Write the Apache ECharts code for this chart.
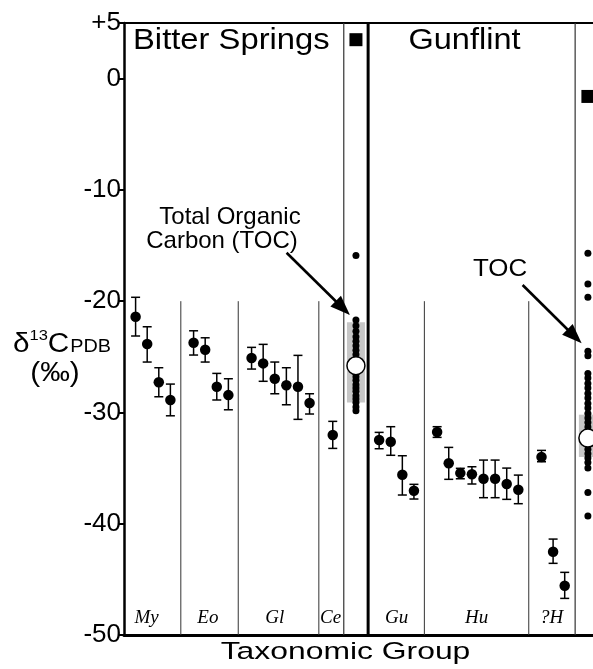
<!DOCTYPE html>
<html><head><meta charset="utf-8">
<script src="https://cdn.jsdelivr.net/npm/echarts@6/dist/echarts.min.js"></script>
<style>html,body{margin:0;padding:0;background:#fff}#c{width:593px;height:669px}</style>
</head><body><div id="c"></div>
<script>
// ---------------- DATA ----------------
const categories = ['My','Eo','Gl','Ce','Gu','Hu','?H'];
const myMean=[-21.40,-23.85,-27.29,-28.88], myHi=[-19.65,-22.30,-25.98,-27.45], myLo=[-23.13,-25.47,-28.59,-30.30];
const eoMean=[-23.74,-24.36,-27.69,-28.44], eoHi=[-22.66,-23.29,-26.49,-26.97], eoLo=[-24.84,-25.47,-28.88,-29.76];
const glMean=[-25.11,-25.59,-26.97,-27.56,-27.69,-29.15], glHi=[-24.15,-23.88,-25.47,-25.98,-24.87,-28.32], glLo=[-26.10,-27.20,-28.32,-29.31,-30.62,-30.14];
const ceMean=[-32.03], ceHi=[-30.80], ceLo=[-33.23];
const guMean=[-32.48,-32.63,-35.60,-37.04], guHi=[-31.79,-31.28,-33.89,-36.46], guLo=[-33.26,-33.85,-37.42,-37.78];
const huMean=[-31.76,-34.57,-35.45,-35.56,-35.96,-35.96,-36.43,-36.95], huHi=[-31.28,-33.14,-35.02,-34.88,-34.28,-34.28,-35.00,-35.63], huLo=[-32.24,-36.01,-35.96,-36.43,-37.66,-37.66,-37.81,-38.20];
const qhMean=[-34.01,-42.52,-45.57], qhHi=[-33.41,-41.38,-44.37], qhLo=[-34.43,-43.56,-46.71];

const bsTocDots=[-15.9,-21.7,-22.2,-22.7,-23.2,-23.6,-24.0,-24.4,-24.8,-26.8,-27.1,-27.5,-27.8,-28.1,-28.5,-28.8,-29.1,-29.5,-29.85];
const bsTocMean=[-25.8];
const bsTocRange=[-21.9,-29.1];
const bsSquare=[3.5];
const gfTocDots=[-15.7,-18.45,-19.65,-24.5,-24.9,-26.5,-26.9,-27.4,-27.8,-28.3,-28.7,-29.2,-29.6,-30.1,-30.5,-30.9,-31.3,-31.7,-32.9,-33.3,-33.7,-34.1,-34.5,-35.0,-37.2,-39.3];
const gfTocMean=[-32.3];
const gfTocRange=[-30.2,-34.0];
const gfSquare=[-1.6];

const yTickValues=[-50,-40,-30,-20,-10,0,5];
const yTickLabels=['-50','-40','-30','-20','-10','0','+5'];

// ---------------- LAYOUT ----------------
const SLOT_MAX=40.44;
const groupStart=[1,6,11,18,22,27,36];
const groupLabelSlot=[1.95,7.23,13.0,17.82,23.5,30.4,36.87];
const groupLabelY=-48.45;
const bsTocSlot=20, gfTocSlot=40;
const partialSeps=[4.9,9.85,16.8,25.9,34.9];
const fullThinSeps=[18.95,38.9];
const thickSeps=[21.05];
const arrows=[[14.02,-15.65,19.48,-21.25],[34.37,-18.55,39.46,-23.79]];

const groupsData=[[myMean,myHi,myLo],[eoMean,eoHi,eoLo],[glMean,glHi,glLo],[ceMean,ceHi,ceLo],[guMean,guHi,guLo],[huMean,huHi,huLo],[qhMean,qhHi,qhLo]];
const pts=[], errs=[];
groupsData.forEach((g,gi)=>{
  g[0].forEach((m,i)=>{
    const s=groupStart[gi]+i;
    pts.push([s,m]);
    errs.push([s,g[2][i],g[1][i]]);
  });
});
const tocDots=bsTocDots.map(v=>[bsTocSlot,v]).concat(gfTocDots.map(v=>[gfTocSlot,v]));
const tocBars=[[bsTocSlot,bsTocRange[1],bsTocRange[0]],[gfTocSlot,gfTocRange[1],gfTocRange[0]]];
const tocMeans=[[bsTocSlot,bsTocMean[0]],[gfTocSlot,gfTocMean[0]]];
const squares=[[bsTocSlot,bsSquare[0]],[gfTocSlot,gfSquare[0]]];

const SANS="'Liberation Sans', Arial, Helvetica, sans-serif";
const chart=echarts.init(document.getElementById('c'),null,{renderer:'canvas'});

function sepSeries(data,top,width,color){
  return {type:'custom',silent:true,z:1,data:data.map(s=>[s]),
    renderItem:(p,api)=>{
      const a=api.coord([api.value(0),top]), b=api.coord([api.value(0),-50]);
      return {type:'line',shape:{x1:a[0],y1:a[1],x2:b[0],y2:b[1]},style:{stroke:color,lineWidth:width}};
    }};
}

const option={
  animation:false,
  backgroundColor:'#fff',
  grid:{left:124,right:0,top:23,bottom:34},
  xAxis:[
    {type:'value',min:0,max:SLOT_MAX,position:'bottom',axisLine:{show:true,onZero:false,lineStyle:{color:'#000',width:3}},axisTick:{show:false},axisLabel:{show:false},splitLine:{show:false}},
    {type:'value',min:0,max:SLOT_MAX,position:'top',axisLine:{show:true,onZero:false,lineStyle:{color:'#000',width:2}},axisTick:{show:false},axisLabel:{show:false},splitLine:{show:false}}
  ],
  yAxis:{type:'value',min:-50,max:5,interval:10,
    axisLine:{show:true,onZero:false,lineStyle:{color:'#000',width:2.5}},
    axisTick:{show:true,length:6,lineStyle:{color:'#000',width:2}},
    axisLabel:{margin:3,color:'#000',fontSize:26,fontFamily:SANS,
      formatter:v=>{const i=yTickValues.indexOf(v);return i>=0?yTickLabels[i]:'';}},
    splitLine:{show:false}},
  series:[
    sepSeries(partialSeps,-20,1,'#333'),
    sepSeries(fullThinSeps,5,1.2,'#333'),
    sepSeries(thickSeps,5,3,'#000'),
    {type:'custom',z:2,data:tocBars,renderItem:(p,api)=>{
      const a=api.coord([api.value(0),api.value(2)]), b=api.coord([api.value(0),api.value(1)]);
      return {type:'rect',shape:{x:a[0]-9,y:a[1],width:18,height:b[1]-a[1]},style:{fill:'#c6c6c6'}};
    }},
    {type:'custom',z:3,data:errs,renderItem:(p,api)=>{
      const lo=api.coord([api.value(0),api.value(1)]), hi=api.coord([api.value(0),api.value(2)]);
      const st={stroke:'#000',lineWidth:1.5}, cw=4.5;
      return {type:'group',children:[
        {type:'line',shape:{x1:hi[0],y1:hi[1],x2:lo[0],y2:lo[1]},style:st},
        {type:'line',shape:{x1:hi[0]-cw,y1:hi[1],x2:hi[0]+cw,y2:hi[1]},style:st},
        {type:'line',shape:{x1:lo[0]-cw,y1:lo[1],x2:lo[0]+cw,y2:lo[1]},style:st}
      ]};
    }},
    {type:'scatter',z:4,data:tocDots,symbol:'circle',symbolSize:7,itemStyle:{color:'#000',opacity:1}},
    {type:'scatter',z:4,data:pts,symbol:'circle',symbolSize:10.5,itemStyle:{color:'#000',opacity:1}},
    {type:'scatter',z:5,clip:false,data:tocMeans,symbol:'circle',symbolSize:18,itemStyle:{color:'#fff',borderColor:'#000',borderWidth:1.5,opacity:1}},
    {type:'scatter',z:5,clip:false,data:squares,symbol:'rect',symbolSize:13,itemStyle:{color:'#000',opacity:1}},
    {type:'custom',z:6,data:arrows,renderItem:(p,api)=>{
      const a=api.coord([api.value(0),api.value(1)]), b=api.coord([api.value(2),api.value(3)]);
      const dx=b[0]-a[0], dy=b[1]-a[1], L=Math.hypot(dx,dy), ux=dx/L, uy=dy/L;
      const hl=20, hw=7.5;
      const bx=b[0]-ux*hl, by=b[1]-uy*hl;
      return {type:'group',children:[
        {type:'line',shape:{x1:a[0],y1:a[1],x2:bx+ux*2,y2:by+uy*2},style:{stroke:'#000',lineWidth:2.6}},
        {type:'polygon',shape:{points:[[b[0],b[1]],[bx-uy*hw,by+ux*hw],[bx+uy*hw,by-ux*hw]]},style:{fill:'#000'}}
      ]};
    }},
    {type:'custom',z:6,data:categories.map((c,i)=>[groupLabelSlot[i],groupLabelY,i]),renderItem:(p,api)=>{
      const a=api.coord([api.value(0),api.value(1)]);
      return {type:'text',x:a[0],y:a[1],style:{text:categories[api.value(2)],fontSize:19,fontStyle:'italic',
        fontFamily:"'Liberation Serif','Times New Roman',serif",fill:'#000',align:'center',verticalAlign:'middle',textAlign:'center',textVerticalAlign:'middle'}};
    }}
  ],
  graphic:[
    {type:'text',x:133,y:41,scaleX:1.13,originX:0,style:{text:'Bitter Springs',fontSize:29,fontFamily:SANS,fill:'#000',align:'left',verticalAlign:'middle',textAlign:'left',textVerticalAlign:'middle'}},
    {type:'text',x:464.5,y:41,scaleX:1.12,style:{text:'Gunflint',fontSize:29,fontFamily:SANS,fill:'#000',align:'center',verticalAlign:'middle',textAlign:'center',textVerticalAlign:'middle'}},
    {type:'text',x:230,y:217,style:{text:'Total Organic',fontSize:24,fontFamily:SANS,fill:'#000',align:'center',verticalAlign:'middle',textAlign:'center',textVerticalAlign:'middle'}},
    {type:'text',x:222,y:241,style:{text:'Carbon (TOC)',fontSize:24,fontFamily:SANS,fill:'#000',align:'center',verticalAlign:'middle',textAlign:'center',textVerticalAlign:'middle'}},
    {type:'text',x:500,y:269,scaleX:1.08,style:{text:'TOC',fontSize:24,fontFamily:SANS,fill:'#000',align:'center',verticalAlign:'middle',textAlign:'center',textVerticalAlign:'middle'}},
    {type:'text',x:345.5,y:652,scaleX:1.3,style:{text:'Taxonomic Group',fontSize:24.5,fontFamily:SANS,fill:'#000',align:'center',verticalAlign:'middle',textAlign:'center',textVerticalAlign:'middle'}},
    {type:'text',x:62,y:343,scaleX:1.1,style:{text:'{d|δ}{s|13}{c|C}{p|PDB}',fontFamily:SANS,fill:'#000',align:'center',verticalAlign:'middle',textAlign:'center',textVerticalAlign:'middle',
      rich:{d:{fontSize:27,fontFamily:SANS,lineHeight:30,verticalAlign:'bottom'},s:{fontSize:15,fontFamily:SANS,lineHeight:30,verticalAlign:'top'},c:{fontSize:27,fontFamily:SANS,lineHeight:30,verticalAlign:'bottom'},p:{fontSize:18,fontFamily:SANS,lineHeight:30,verticalAlign:'bottom',padding:[0,0,2,1]}}}},
    {type:'text',x:55,y:374,scaleX:1.1,style:{text:'(‰)',fontSize:27,fontFamily:SANS,fill:'#000',align:'center',verticalAlign:'middle',textAlign:'center',textVerticalAlign:'middle'}}
  ]
};
chart.setOption(option);
</script>
</body></html>
